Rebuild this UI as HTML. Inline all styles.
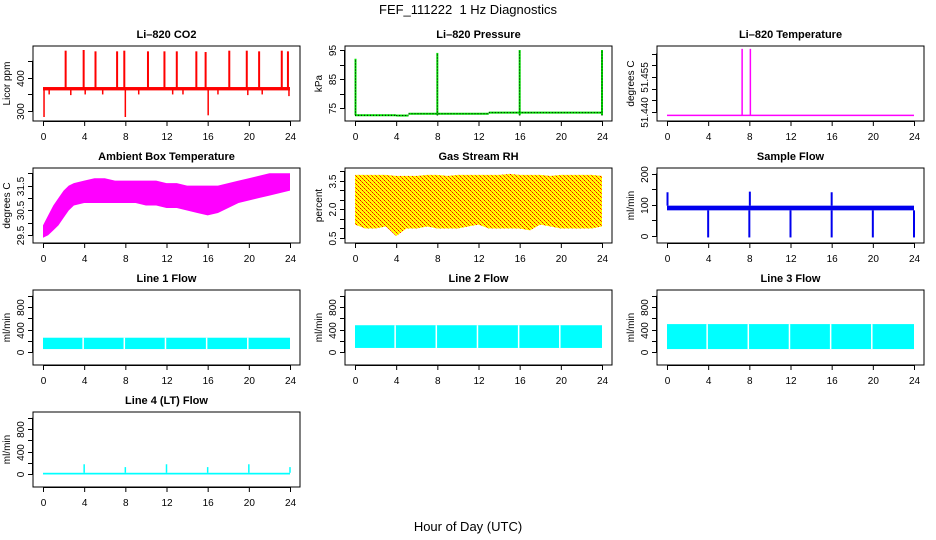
<!DOCTYPE html>
<html><head><meta charset="utf-8">
<style>
html,body{margin:0;padding:0;background:#fff;}
svg{display:block;font-family:"Liberation Sans",Arial,sans-serif;}
.t{font-size:11px;font-weight:bold;text-anchor:middle;}
.tk{font-size:10px;text-anchor:middle;}
</style></head>
<body>
<svg id="chart" width="936" height="540" viewBox="0 0 936 540">
<defs>
<pattern id="rhpat" width="4" height="4" patternUnits="userSpaceOnUse">
<rect width="4" height="4" fill="#ffff00"/>
<rect x="0" y="0" width="1" height="1" fill="#ff0000"/>
<rect x="2" y="2" width="1" height="1" fill="#ff0000"/>
<rect x="1" y="1" width="1" height="1" fill="#ff6000"/>
<rect x="3" y="3" width="1" height="1" fill="#ff6000"/>
</pattern>
</defs>
<text x="468" y="14" style="font-size:13px;white-space:pre" text-anchor="middle">FEF_111222  1 Hz Diagnostics</text>
<text x="468" y="531" style="font-size:13px" text-anchor="middle">Hour of Day (UTC)</text>
</svg>
<script>
// ---- data arrays ----
var xTicks = [0,4,8,12,16,20,24];
// CO2
var co2Base = 367;
var co2SpikeHours = [2.2,3.95,5.1,7.2,7.9,10.2,11.8,13.0,14.9,15.8,18.1,19.8,21.0,23.2,23.8];
var co2SpikeValues = [480,482,478,478,480,478,478,478,478,476,480,480,478,480,478];
var co2DipHours = [0.1,8.0,16.05,0.6,2.7,4.1,5.8,9.3,12.6,13.6,17.0,19.9,21.3,23.9];
var co2DipValues = [283,283,288,350,348,350,350,350,350,350,350,348,350,345];
// Pressure
var presStepHours = [0,4,5.2,13,24];
var presStepValues = [72.6,72.5,73.1,73.5,73.5];
var presSpikeHours = [0.05,8.0,16.0,24.0];
var presSpikeValues = [92,94,95,95];
// Li-820 temperature
var tempBase = 51.4385;
var tempSpikeHours = [7.3,8.1];
var tempSpikeValues = [51.467,51.467];
// Ambient box temperature envelope
var ambHours = [0,0.5,1,1.5,2,2.5,3,4,5,6,7,8,9,10,11,12,13,14,15,16,17,18,19,20,21,22,23,24];
var ambHigh = [29.9,30.3,30.7,31.0,31.3,31.5,31.6,31.7,31.8,31.8,31.7,31.7,31.7,31.7,31.7,31.6,31.6,31.5,31.5,31.5,31.5,31.6,31.7,31.8,31.9,32.0,32.0,32.0];
var ambLow = [29.4,29.5,29.7,29.9,30.2,30.5,30.7,30.8,30.8,30.8,30.8,30.8,30.8,30.7,30.7,30.6,30.6,30.5,30.4,30.3,30.4,30.6,30.8,30.9,31.0,31.1,31.2,31.3];
// Gas stream RH
var rhHours = [0,1,2,3,4,5,6,7,8,9,10,11,12,13,14,15,16,17,18,19,20,21,22,23,24];
var rhHigh = [3.8,3.8,3.8,3.8,3.75,3.75,3.75,3.8,3.8,3.75,3.8,3.8,3.8,3.8,3.8,3.85,3.8,3.8,3.8,3.75,3.8,3.8,3.8,3.8,3.75];
var rhLow = [1.2,1.0,1.0,1.1,0.6,1.0,1.0,1.1,1.0,1.0,1.0,1.1,1.2,1.0,1.0,1.0,1.0,0.9,1.2,1.1,1.0,1.0,1.0,1.0,1.1];
// Sample flow
var sfBase = [82,97];
var sfDipHours = [4,8,12,16,20,24];
var sfDipValues = [-5,-5,-5,-5,-5,-5];
var sfPeakHours = [0.05,8.05,16.0];
var sfPeakValues = [140,142,140];
// Line flows
var flowGapHours = [4,8,12,16,20];
var line1Band = [60,260];
var line2Band = [80,480];
var line3Band = [60,500];
var line4Base = [0,30];
var line4SpikeHours = [4,8,12,16,20,24];
var line4SpikeValues = [180,130,180,130,180,130];

// ---- layout ----
var svg = document.getElementById('chart');
var NS = 'http://www.w3.org/2000/svg';
function el(tag, attrs, parent){ var e=document.createElementNS(NS,tag); for(var k in attrs) e.setAttribute(k,attrs[k]); (parent||svg).appendChild(e); return e; }
var colX = [33,345,657], rowY = [46,168,290,412], BW = 267, BH = 75;
function makePanel(col,row,title,ytitle,v0,v1,yticks,ylabels,name){
  var bx=colX[col], by=rowY[row];
  var g=el('g',{});
  
  
  var p={g:g,bx:bx,by:by,
    x:function(h){return bx+10+h*247/24;},
    y:function(v){return by+BH-4-(v-v0)/(v1-v0)*(BH-8);}};
  var tt=el('text',{x:bx+BW/2,y:by-8,'class':'t'},g); tt.textContent=title;
  
  
  p.plot=el('g',{},g);
  
  
  var box=el('rect',{x:bx,y:by,width:BW,height:BH,fill:'none',stroke:'#000','stroke-width':1},g);
  
  
  var xa=el('g',{},g);
  
  
  el('line',{x1:p.x(0),x2:p.x(24),y1:by+BH+0.5,y2:by+BH+0.5,stroke:'#000'},xa);
  xTicks.forEach(function(h){
    el('line',{x1:p.x(h)+0.5,x2:p.x(h)+0.5,y1:by+BH,y2:by+BH+5,stroke:'#000'},xa);
    var t=el('text',{x:p.x(h)+0.5,y:by+BH+19,'class':'tk'},xa); t.textContent=h;
  });
  var ya=el('g',{},g);
  
  
  el('line',{x1:bx-0.5,x2:bx-0.5,y1:p.y(yticks[0]),y2:p.y(yticks[yticks.length-1]),stroke:'#000'},ya);
  yticks.forEach(function(v,i){
    var yy=Math.round(p.y(v))+0.5;
    el('line',{x1:bx-5,x2:bx,y1:yy,y2:yy,stroke:'#000'},ya);
    if(ylabels[i]!==''){var t=el('text',{x:0,y:0,'class':'tk',transform:'translate('+(bx-9)+','+yy+') rotate(-90)'},ya); t.textContent=ylabels[i];}
  });
  var yt=el('text',{x:0,y:0,'class':'tk',transform:'translate('+(bx-23)+','+(by+BH/2)+') rotate(-90)'},g); yt.textContent=ytitle;
  
  
  return p;
}
function vline(p,h,va,vb,color,w){ el('line',{x1:p.x(h),x2:p.x(h),y1:p.y(va),y2:p.y(vb),stroke:color,'stroke-width':w||1.5},p.plot); }
function band(p,hs,lo,hi,fill){
  var pts=[]; for(var i=0;i<hs.length;i++) pts.push(p.x(hs[i])+','+p.y(hi[i]));
  for(var j=hs.length-1;j>=0;j--) pts.push(p.x(hs[j])+','+p.y(lo[j]));
  el('polygon',{points:pts.join(' '),fill:fill},p.plot);
}
function flatBand(p,b,color){ el('rect',{x:p.x(0),y:p.y(b[1]),width:p.x(24)-p.x(0),height:p.y(b[0])-p.y(b[1]),fill:color},p.plot); }

var p1=makePanel(0,0,'Li\u2013820 CO2','Licor ppm',283,482,[300,350,400,450],['300','','400',''],'co2');
flatBand(p1,[co2Base-5,co2Base+5],'#ff0000');
co2SpikeHours.forEach(function(h,i){vline(p1,h,co2Base,co2SpikeValues[i],'#ff0000',2);});
co2DipHours.forEach(function(h,i){vline(p1,h,co2Base,co2DipValues[i],'#ff0000',1.5);});

var p2=makePanel(1,0,'Li\u2013820 Pressure','kPa',72,95,[75,80,85,90,95],['75','','85','','95'],'pressure');
for(var i=0;i<presStepHours.length-1;i++){
  el('line',{x1:p2.x(presStepHours[i]),x2:p2.x(presStepHours[i+1]),y1:p2.y(presStepValues[i]),y2:p2.y(presStepValues[i]),stroke:'#00dd00','stroke-width':2},p2.plot);
  el('line',{x1:p2.x(presStepHours[i]),x2:p2.x(presStepHours[i+1]),y1:p2.y(presStepValues[i]),y2:p2.y(presStepValues[i]),stroke:'#000','stroke-width':1,'stroke-dasharray':'1,2'},p2.plot);
}
presSpikeHours.forEach(function(h,i){vline(p2,h,presStepValues[0],presSpikeValues[i],'#00dd00',2);el('line',{x1:p2.x(h),x2:p2.x(h),y1:p2.y(72.5),y2:p2.y(presSpikeValues[i]),stroke:'#000','stroke-dasharray':'1,2'},p2.plot);});

var p3=makePanel(2,0,'Li\u2013820 Temperature','degrees C',51.4378,51.4665,[51.440,51.445,51.450,51.455,51.460,51.465],['51.440','','','51.455','',''],'li820-temperature');
el('line',{x1:p3.x(0),x2:p3.x(24),y1:p3.y(tempBase),y2:p3.y(tempBase),stroke:'#ff00ff','stroke-width':1.5},p3.plot);
tempSpikeHours.forEach(function(h,i){vline(p3,h,tempBase,tempSpikeValues[i],'#ff00ff',1.5);});

var p4=makePanel(0,1,'Ambient Box Temperature','degrees C',29.35,32.05,[29.5,30,30.5,31,31.5,32],['29.5','','30.5','','31.5',''],'ambient-temperature');
band(p4,ambHours,ambLow,ambHigh,'#ff00ff');

var p5=makePanel(1,1,'Gas Stream RH','percent',0.45,3.95,[0.5,1,1.5,2,2.5,3,3.5,4],['0.5','','','2.0','','','3.5',''],'gas-stream-rh');
band(p5,rhHours,rhLow,rhHigh,'url(#rhpat)');

var p6=makePanel(2,1,'Sample Flow','ml/min',-10,205,[0,50,100,150,200],['0','','100','','200'],'sample-flow');
flatBand(p6,sfBase,'#0000ee');
sfDipHours.forEach(function(h,i){vline(p6,h,sfBase[0],sfDipValues[i],'#0000ee',2);});
sfPeakHours.forEach(function(h,i){vline(p6,h,sfBase[1],sfPeakValues[i],'#0000ee',2);});

function flowPanel(col,row,title,b,name){
  var p=makePanel(col,row,title,'ml/min',-150,1030,[0,200,400,600,800,1000],['0','','400','','800',''],name);
  flatBand(p,b,'#00ffff');
  flowGapHours.forEach(function(h){vline(p,h-0.1,b[0],b[1],'#ffffff',1.5);});
  return p;
}
flowPanel(0,2,'Line 1 Flow',line1Band,'line1-flow');
flowPanel(1,2,'Line 2 Flow',line2Band,'line2-flow');
flowPanel(2,2,'Line 3 Flow',line3Band,'line3-flow');
var p10=makePanel(0,3,'Line 4 (LT) Flow','ml/min',-150,1030,[0,200,400,600,800,1000],['0','','400','','800',''],'line4-flow');
flatBand(p10,line4Base,'#00ffff');
line4SpikeHours.forEach(function(h,i){vline(p10,h,line4Base[1],line4SpikeValues[i],'#00ffff',1.5);});
</script>
</body></html>
